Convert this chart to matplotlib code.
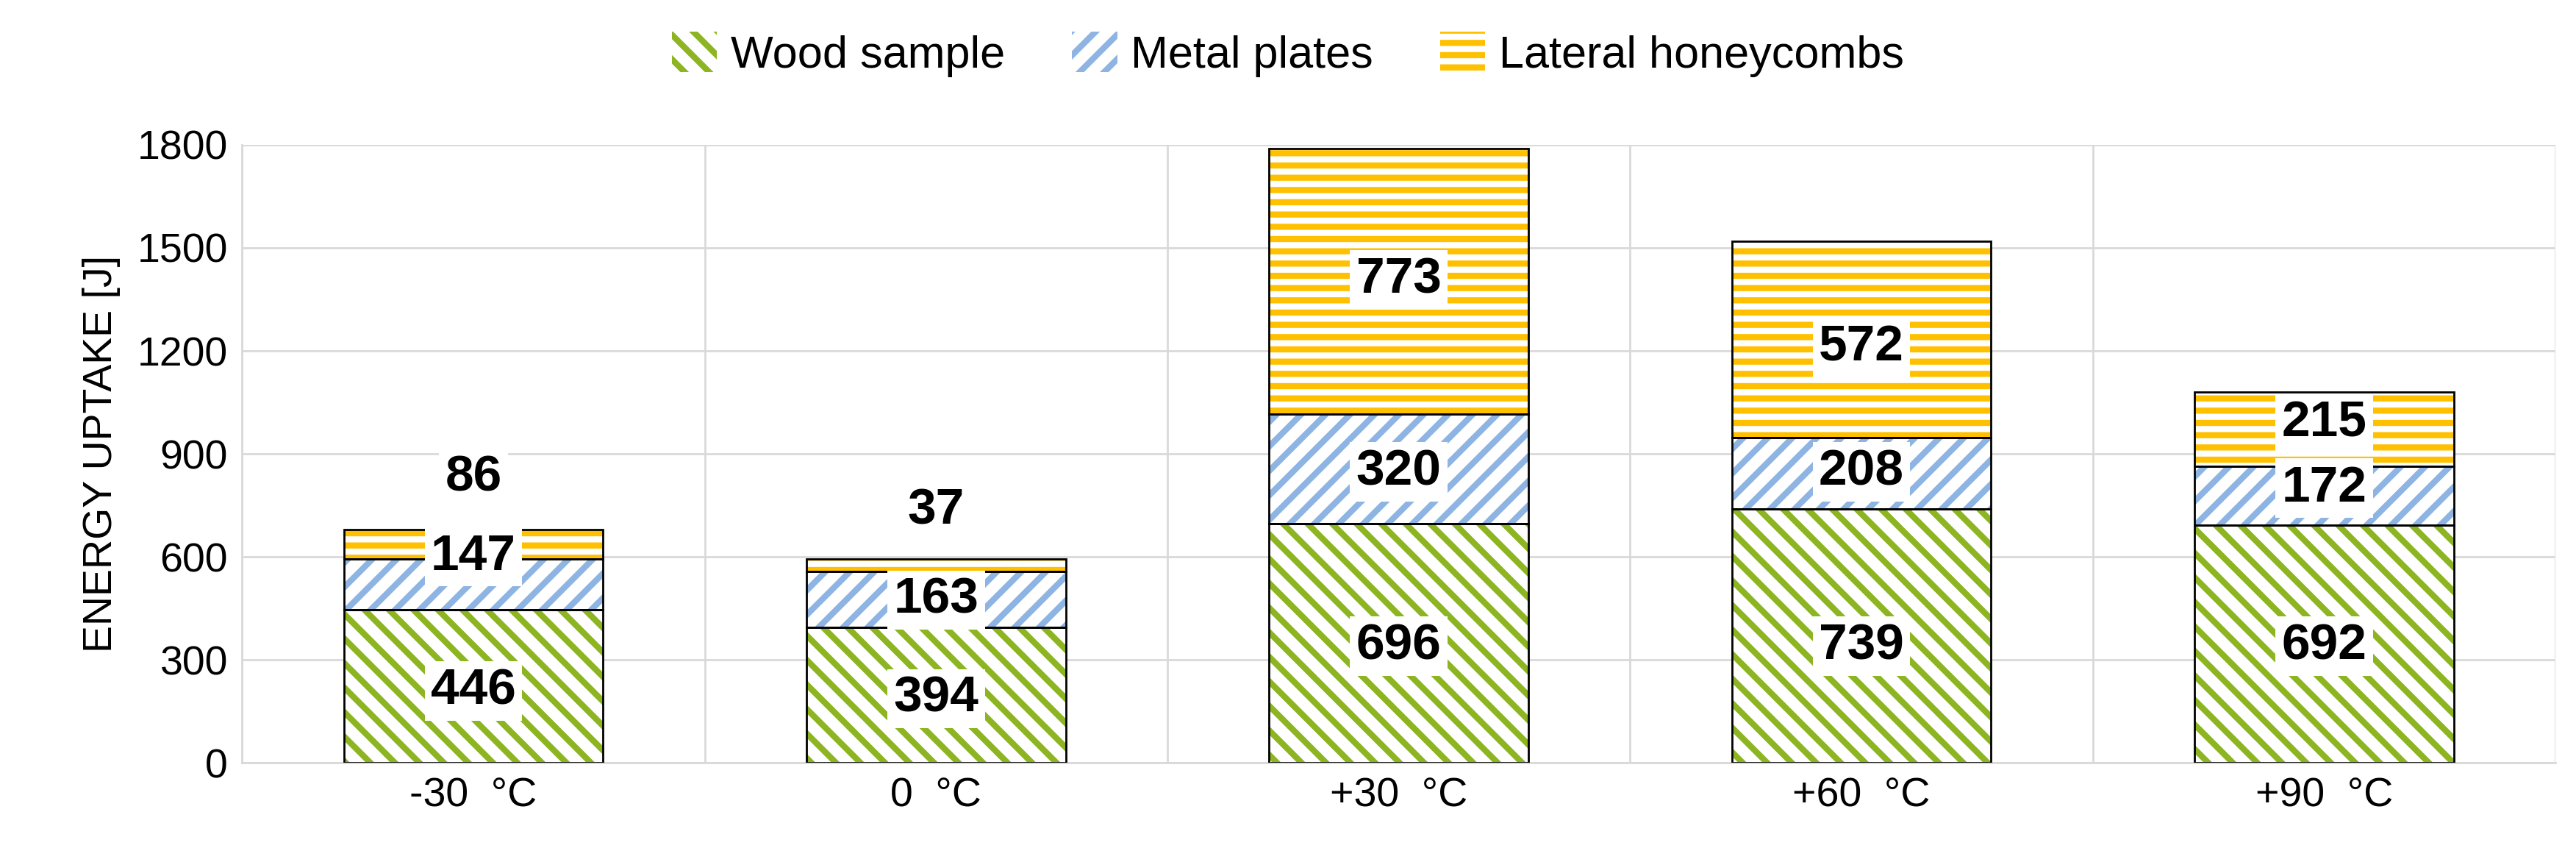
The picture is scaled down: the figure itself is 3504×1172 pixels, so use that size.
import numpy as np
import matplotlib.pyplot as plt
from matplotlib.patches import Patch

plt.rcParams['font.family'] = ['Liberation Sans', 'DejaVu Sans']
plt.rcParams['hatch.linewidth'] = 6

temps = ["-30  °C", "0  °C", "+30  °C", "+60  °C", "+90  °C"]
wood = np.array([446, 394, 696, 739, 692])
metal = np.array([147, 163, 320, 208, 172])
honey = np.array([86, 37, 773, 572, 215])

# label heights (labels moved by hand in the original)
wood_lab_y = [210, 187, 340, 340, 340]
metal_lab_y = [600, 474, 847, 847, 800]
honey_lab_y = [830, 735, 1407, 1210, 990]

series = [
    ("Wood sample", wood, "#8DB522", "\\", wood_lab_y),
    ("Metal plates", metal, "#8DB4E2", "/", metal_lab_y),
    ("Lateral honeycombs", honey, "#FFC000", "-", honey_lab_y),
]

fig = plt.figure(figsize=(35.04, 11.72), dpi=100)
ax = fig.add_axes([0.094, 0.115, 0.898, 0.717])
x = np.arange(len(temps))
w = 0.56
bottom = np.zeros(len(temps))
handles = []
for name, vals, col, hatch, laby in series:
    ax.bar(x, vals, w, bottom=bottom, color="white", edgecolor=col,
           hatch=hatch, linewidth=0, zorder=2)
    ax.bar(x, vals, w, bottom=bottom, color="none", edgecolor="black",
           linewidth=2, zorder=3)
    for xi, v, ly in zip(x, vals, laby):
        ax.text(xi, ly, str(v), ha="center", va="center", fontsize=50,
                fontweight="bold", zorder=4,
                bbox=dict(facecolor="white", edgecolor="none", pad=6))
    bottom += vals
    handles.append(Patch(facecolor="white", edgecolor=col, hatch=hatch,
                         linewidth=0, label=name))

ax.set_ylim(0, 1800)
ax.set_xlim(-0.5, len(temps) - 0.5)
ax.set_yticks(np.arange(0, 1801, 300))
ax.set_xticks(x)
ax.set_xticklabels(temps)
ax.set_xticks(np.arange(-0.5, len(temps), 1), minor=True)
ax.tick_params(axis="both", which="both", length=0, labelsize=40, pad=14)
ax.grid(axis="y", color="#D9D9D9", linewidth=2, zorder=0)
ax.grid(axis="x", which="minor", color="#D9D9D9", linewidth=2, zorder=0)
for s in ["top", "right"]:
    ax.spines[s].set_visible(False)
ax.spines["left"].set_color("#D9D9D9")
ax.spines["left"].set_linewidth(2)
ax.spines["bottom"].set_color("#D9D9D9")
ax.spines["bottom"].set_linewidth(2)
ax.set_ylabel("ENERGY UPTAKE [J]", fontsize=40, labelpad=16)

fig.legend(handles=handles, loc="upper center", bbox_to_anchor=(0.5, 1.01),
           ncol=3, frameon=False, fontsize=44, handlelength=1.0,
           handleheight=1.0, columnspacing=1.5, handletextpad=0.3)

fig.savefig("out.png", dpi=100)
